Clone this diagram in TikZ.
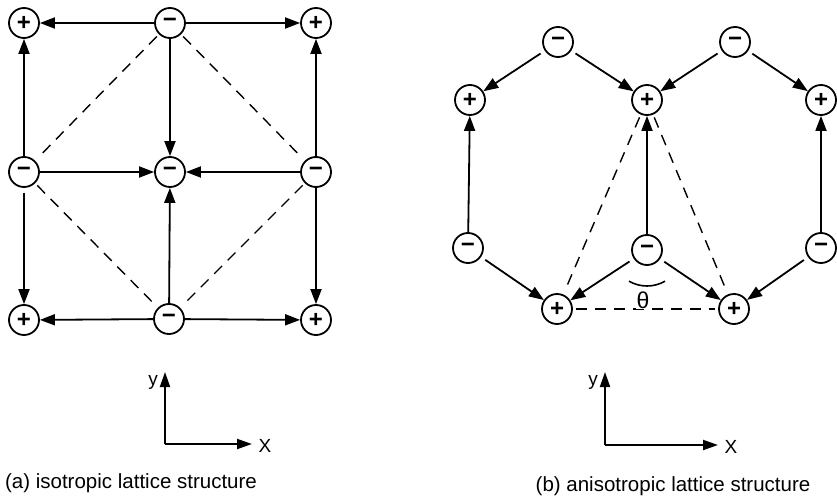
\documentclass[tikz,border=0pt]{standalone}
\usepackage{fontspec}
\setmainfont{Liberation Sans}
\usetikzlibrary{arrows.meta}
\begin{document}
\begin{tikzpicture}[x=1pt,y=-1pt,
  ion/.style={circle,draw,line width=1.8pt,minimum size=30pt,inner sep=0pt,font=\fontsize{24}{24}\selectfont\bfseries},
  bond/.style={line width=1.8pt,-{Triangle[length=15pt,width=11pt]}},
  gapbond/.style={bond,shorten <=5pt},
  link/.style={line width=1.4pt,dash pattern=on 11pt off 8pt,shorten <=3pt,shorten >=3pt},
  axisline/.style={line width=1.9pt,-{Triangle[length=15pt,width=10pt]}},
  lbl/.style={font=\fontsize{19}{19}\selectfont,inner sep=0pt},
  capt/.style={font=\fontsize{20.5}{20.5}\selectfont,inner sep=0pt}]
\useasboundingbox (0,0) rectangle (837,500);
% (a) isotropic lattice
\node[ion] (a1) at (24,23) {+};
\node[ion] (a2) at (170,23) {−};
\node[ion] (a3) at (316,23) {+};
\node[ion] (a4) at (24,172) {−};
\node[ion] (a5) at (170,172) {−};
\node[ion] (a6) at (316,172) {−};
\node[ion] (a7) at (24,320) {+};
\node[ion] (a8) at (169,319) {−};
\node[ion] (a9) at (316,320) {+};
\draw[bond] (a2) -- (a1);
\draw[bond] (a2) -- (a3);
\draw[bond] (a4) -- (a1);
\draw[bond] (a6) -- (a3);
\draw[bond] (a2) -- (a5);
\draw[bond] (a4) -- (a5);
\draw[bond] (a6) -- (a5);
\draw[bond] (a8) -- (a5);
\draw[gapbond] (a4) -- (a7);
\draw[bond] (a6) -- (a9);
\draw[bond] (a8) -- (a7);
\draw[bond] (a8) -- (a9);
\draw[link] (a2) -- (a4);
\draw[link] (a2) -- (a6);
\draw[link] (a4) -- (a8);
\draw[link] (a6) -- (a8);
% (b) anisotropic lattice
\node[ion] (t1) at (558,42) {−};
\node[ion] (t2) at (735,42) {−};
\node[ion] (p1) at (470,100) {+};
\node[ion] (p2) at (647,100) {+};
\node[ion] (p3) at (821,100) {+};
\node[ion] (m1) at (468,248) {−};
\node[ion] (m2) at (647,250) {−};
\node[ion] (m3) at (821,248) {−};
\node[ion] (b1) at (557,309) {+};
\node[ion] (b2) at (734,309) {+};
\draw[gapbond] (t1) -- (p1);
\draw[gapbond] (t1) -- (p2);
\draw[gapbond] (t2) -- (p2);
\draw[gapbond] (t2) -- (p3);
\draw[bond] (m1) -- (p1);
\draw[bond] (m2) -- (p2);
\draw[bond] (m3) -- (p3);
\draw[gapbond] (m1) -- (b1);
\draw[gapbond] (m2) -- (b1);
\draw[gapbond] (m2) -- (b2);
\draw[gapbond] (m3) -- (b2);
\draw[link] (p2) -- (b1);
\draw[link] (p2) -- (b2);
\draw[link] (b1) -- (b2);
\draw[line width=1.6pt] ([shift={(-120:36pt)}]m2.center) arc[start angle=-120,end angle=-60,radius=36pt];
\node[font=\fontsize{23}{23}\selectfont,fill=white,inner sep=0.5pt] (th) at (643,300) {θ};
% axes (a)
\coordinate (ao) at (165,444);
\coordinate (ay) at (165,372);
\coordinate (ax) at (252,444);
\draw[axisline] (ao) -- (ay);
\draw[axisline] (ao) -- (ax);
\node[lbl] (ylab) at (153,382) {y};
\node[lbl] (xlab) at (265,446) {X};
% axes (b)
\coordinate (bo) at (605,445);
\coordinate (by) at (605,372);
\coordinate (bx) at (718,445);
\draw[axisline] (bo) -- (by);
\draw[axisline] (bo) -- (bx);
\node[lbl] (ylb) at (593,382) {y};
\node[lbl] (xlb) at (731,447) {X};
% captions
\node[capt] (capa) at (131,483) {(a) isotropic lattice structure};
\node[capt] (capb) at (673,486) {(b) anisotropic lattice structure};
\end{tikzpicture}
\end{document}
